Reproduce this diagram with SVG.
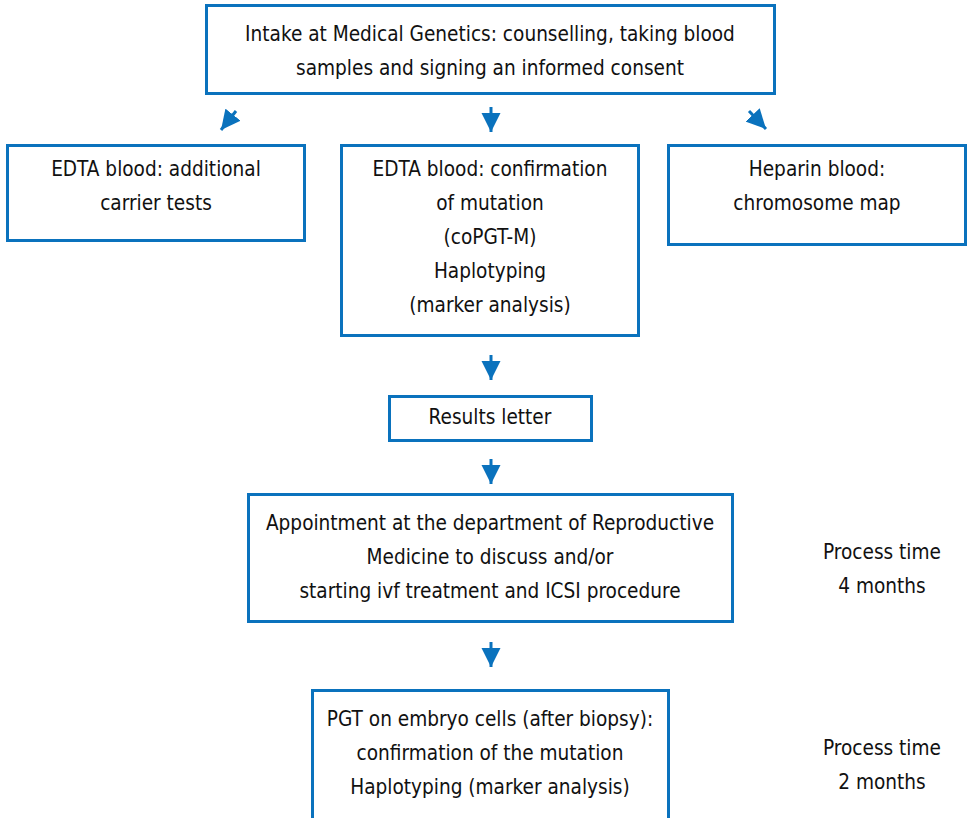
<svg xmlns="http://www.w3.org/2000/svg" width="973" height="818" viewBox="0 0 973 818">
<defs>
<style>
.box{fill:#fff;stroke:#0a72bd;stroke-width:3}
text{font-family:"DejaVu Sans Condensed","DejaVu Sans",sans-serif;font-stretch:condensed;font-size:20.6px;fill:#111;text-anchor:middle}
.shaft{stroke:#0a72bd;stroke-width:3;fill:none}
</style>
<marker id="ah" viewBox="0 0 10 10" refX="10" refY="5" markerWidth="6.5" markerHeight="6.5" markerUnits="strokeWidth" orient="auto">
<path d="M0,0 L10,5 L0,10 Z" fill="#0a72bd"/>
</marker>
</defs>
<rect width="973" height="818" fill="#fff"/>
<g id="connectors">
<line class="shaft" x1="236" y1="111" x2="221" y2="130" marker-end="url(#ah)"/>
<line class="shaft" x1="491" y1="107" x2="491" y2="132" marker-end="url(#ah)"/>
<line class="shaft" x1="749" y1="111" x2="766" y2="129" marker-end="url(#ah)"/>
<line class="shaft" x1="491" y1="355" x2="491" y2="380" marker-end="url(#ah)"/>
<line class="shaft" x1="491" y1="459" x2="491" y2="484" marker-end="url(#ah)"/>
<line class="shaft" x1="491" y1="642" x2="491" y2="667" marker-end="url(#ah)"/>
</g>
<g id="intake">
<rect class="box" x="206.5" y="5.5" width="568" height="88"/>
<text x="490" y="41">Intake at Medical Genetics: counselling, taking blood</text>
<text x="490" y="75">samples and signing an informed consent</text>
</g>
<g id="edta-carrier">
<rect class="box" x="7.5" y="145.5" width="297" height="95"/>
<text x="156" y="176">EDTA blood: additional</text>
<text x="156" y="210">carrier tests</text>
</g>
<g id="edta-confirm">
<rect class="box" x="341.5" y="145.5" width="297" height="190"/>
<text x="490" y="176">EDTA blood: confirmation</text>
<text x="490" y="210">of mutation</text>
<text x="490" y="244">(coPGT-M)</text>
<text x="490" y="278">Haplotyping</text>
<text x="490" y="312">(marker analysis)</text>
</g>
<g id="heparin">
<rect class="box" x="668.5" y="145.5" width="297" height="99"/>
<text x="817" y="176">Heparin blood:</text>
<text x="817" y="210">chromosome map</text>
</g>
<g id="results">
<rect class="box" x="389.5" y="396.5" width="202" height="44"/>
<text x="490" y="424">Results letter</text>
</g>
<g id="appointment">
<rect class="box" x="248.5" y="494.5" width="484" height="127"/>
<text x="490" y="530">Appointment at the department of Reproductive</text>
<text x="490" y="564">Medicine to discuss and/or</text>
<text x="490" y="598">starting ivf treatment and ICSI procedure</text>
</g>
<g id="pgt">
<rect class="box" x="312.5" y="690.5" width="356" height="140"/>
<text x="490" y="726">PGT on embryo cells (after biopsy):</text>
<text x="490" y="760">confirmation of the mutation</text>
<text x="490" y="794">Haplotyping (marker analysis)</text>
</g>
<g id="time1">
<text x="882" y="559">Process time</text>
<text x="882" y="593">4 months</text>
</g>
<g id="time2">
<text x="882" y="755">Process time</text>
<text x="882" y="789">2 months</text>
</g>
</svg>
